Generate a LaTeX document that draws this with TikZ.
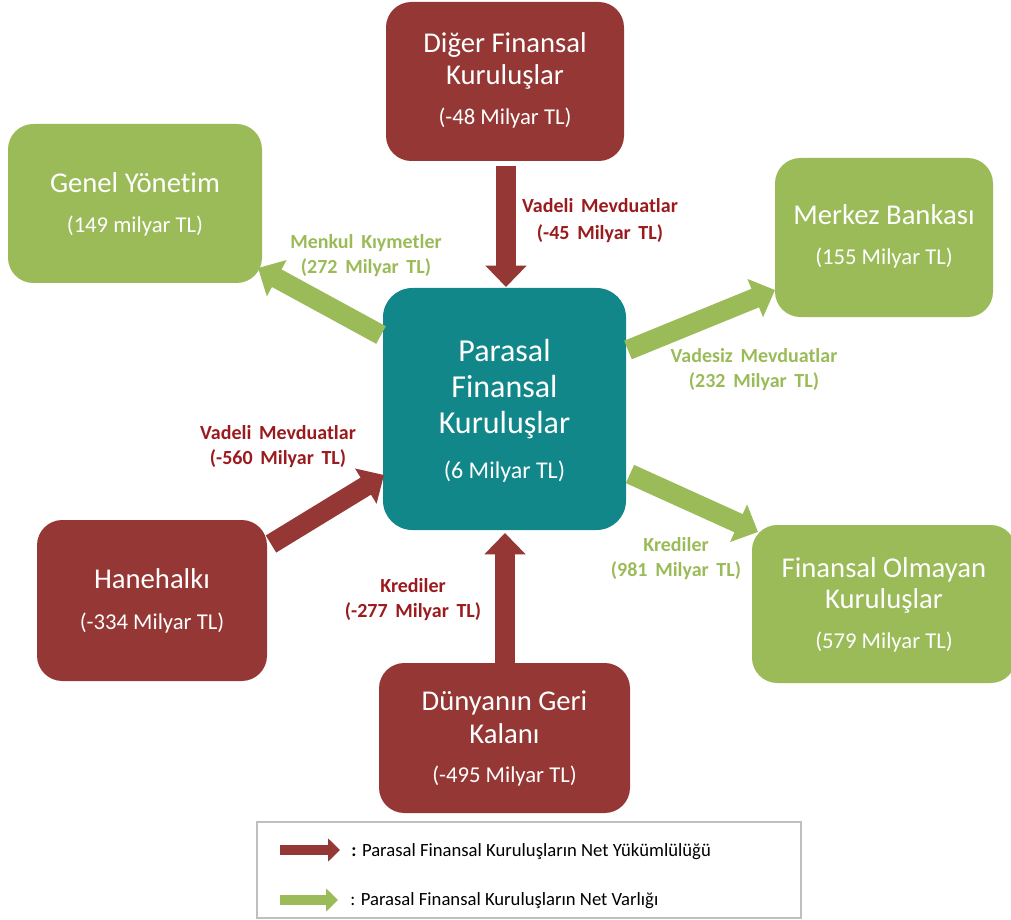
\documentclass[tikz,border=0pt]{standalone}
\usepackage{fontspec}
\setmainfont{Carlito}[Ligatures=NoCommon]
\newfontfamily\labfont{Carlito}[Ligatures=NoCommon, WordSpace=1.7]
\usetikzlibrary{arrows.meta}
\definecolor{boxred}{HTML}{953735}
\definecolor{boxgreen}{HTML}{9BBB59}
\definecolor{boxteal}{HTML}{12878A}
\definecolor{labred}{HTML}{9A1B1E}
\definecolor{leggray}{HTML}{BFBFBF}
\begin{document}
\begin{tikzpicture}[x=0.75pt,y=-0.75pt,
  box/.style={fill=#1, draw=none, rounded corners=19pt, inner sep=0pt},
  boxsize/.style 2 args={minimum width=#1*0.75pt, minimum height=#2*0.75pt},
  maintext/.style={anchor=base, text=white, inner sep=0pt, font=\fontsize{21.5}{26}\selectfont},
  bigtext/.style={anchor=base, text=white, inner sep=0pt, font=\fontsize{24}{28}\selectfont},
  subtext/.style={anchor=base, text=white, inner sep=0pt, font=\fontsize{17}{20}\selectfont},
  bigsub/.style={anchor=base, text=white, inner sep=0pt, font=\fontsize{18}{21}\selectfont},
  lab/.style={anchor=base, inner sep=0pt, font=\labfont\bfseries\fontsize{15}{18}\selectfont},
  redlab/.style={lab, text=labred},
  greenlab/.style={lab, text=boxgreen},
  bigarrow/.style={line width=15pt, draw=#1, -{Triangle[length=16pt,width=30pt]}},
  legarrow/.style={line width=7.5pt, draw=#1, -{Triangle[length=9pt,width=17pt]}},
  legtext/.style={anchor=base west, inner sep=0pt, font=\fontsize{14}{17}\selectfont}
]
\useasboundingbox (0,0) rectangle (1011,920);
\clip (0,0) rectangle (1011,920);

% boxes
\node[box=boxred, boxsize={238}{159}] (dig) at (505,81.5) {};
\node[box=boxgreen, boxsize={254}{159}] (gen) at (135,203.5) {};
\node[box=boxgreen, boxsize={218}{159}] (mer) at (884,237.5) {};
\node[box=boxteal, boxsize={243}{242}, rounded corners=22pt] (par) at (504.5,409) {};
\node[box=boxred, boxsize={230}{161}] (han) at (152,600.5) {};
\node[box=boxgreen, boxsize={264}{158}] (fin) at (884,604) {};
\node[box=boxred, boxsize={251}{150}] (dun) at (504.5,738) {};

% box texts
\node[maintext] (dig1) at (505,53) {Diğer Finansal};
\node[maintext] (dig2) at (505,85) {Kuruluşlar};
\node[subtext] (dig3) at (505,125) {(-48 Milyar TL)};

\node[maintext] (gen1) at (135,193) {Genel Yönetim};
\node[subtext] (gen2) at (135,233) {(149 milyar TL)};

\node[maintext] (mer1) at (884,225) {Merkez Bankası};
\node[subtext] (mer2) at (884,265) {(155 Milyar TL)};

\node[bigtext] (par1) at (504.5,361) {Parasal};
\node[bigtext] (par2) at (504.5,397) {Finansal};
\node[bigtext] (par3) at (504.5,433) {Kuruluşlar};
\node[bigsub] (par4) at (504.5,478) {(6 Milyar TL)};

\node[maintext] (han1) at (152,588) {Hanehalkı};
\node[subtext] (han2) at (152,629) {(-334 Milyar TL)};

\node[maintext] (fin1) at (884,577) {Finansal Olmayan};
\node[maintext] (fin2) at (884,608) {Kuruluşlar};
\node[subtext] (fin3) at (884,648) {(579 Milyar TL)};

\node[maintext] (dun1) at (504.5,710) {Dünyanın Geri};
\node[maintext] (dun2) at (504.5,743) {Kalanı};
\node[subtext] (dun3) at (504.5,782) {(-495 Milyar TL)};

% arrow end points
\coordinate (a1s) at (506,166); \coordinate (a1e) at (506,287);
\coordinate (a2s) at (381,335); \coordinate (a2e) at (258,268);
\coordinate (a3s) at (628,350); \coordinate (a3e) at (775,290);
\coordinate (a4s) at (271,544); \coordinate (a4e) at (384,475);
\coordinate (a5s) at (630,474); \coordinate (a5e) at (758,532);
\coordinate (a6s) at (505,663); \coordinate (a6e) at (505,533);

\draw[bigarrow=boxred] (a1s) -- (a1e);
\draw[bigarrow=boxgreen] (a2s) -- (a2e);
\draw[bigarrow=boxgreen] (a3s) -- (a3e);
\draw[bigarrow=boxred] (a4s) -- (a4e);
\draw[bigarrow=boxgreen] (a5s) -- (a5e);
\draw[bigarrow=boxred] (a6s) -- (a6e);

% arrow labels
\node[redlab] (l1a) at (600,213) {Vadeli Mevduatlar};
\node[redlab] (l1b) at (600,239) {(-45 Milyar TL)};
\node[greenlab] (l2a) at (366,248) {Menkul Kıymetler};
\node[greenlab] (l2b) at (366,273) {(272 Milyar TL)};
\node[greenlab] (l3a) at (754,362) {Vadesiz Mevduatlar};
\node[greenlab] (l3b) at (754,387) {(232 Milyar TL)};
\node[redlab] (l4a) at (278,439) {Vadeli Mevduatlar};
\node[redlab] (l4b) at (278,464) {(-560 Milyar TL)};
\node[redlab] (l6a) at (413,592) {Krediler};
\node[redlab] (l6b) at (413,617) {(-277 Milyar TL)};
\node[greenlab] (l5a) at (676,551) {Krediler};
\node[greenlab] (l5b) at (676,576) {(981 Milyar TL)};

% legend
\node[draw=leggray, line width=0.8pt, inner sep=0pt, minimum width=544*0.75pt, minimum height=96*0.75pt] (leg) at (529,870) {};
\coordinate (g1s) at (280,850); \coordinate (g1e) at (340,850);
\coordinate (g2s) at (280,900); \coordinate (g2e) at (338,900);
\draw[legarrow=boxred] (g1s) -- (g1e);
\draw[legarrow=boxgreen] (g2s) -- (g2e);
\node[legtext] (lt1) at (351,856) {\textbf{:} Parasal Finansal Kuruluşların Net Yükümlülüğü};
\node[legtext] (lt2) at (350,905) {: Parasal Finansal Kuruluşların Net Varlığı};
\end{tikzpicture}
\end{document}
